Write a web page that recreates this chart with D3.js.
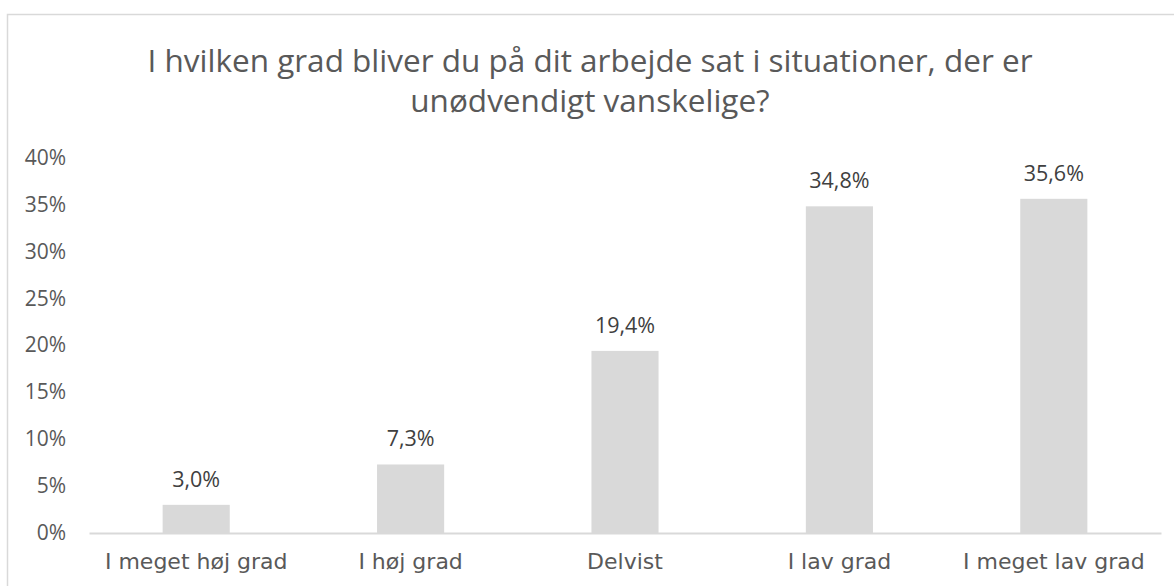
<!DOCTYPE html>
<html>
<head>
<meta charset="utf-8">
<script src="https://cdn.jsdelivr.net/npm/d3@7"></script>
<style>
  body { margin: 0; background: #fff; }
  svg { display: block; }
</style>
</head>
<body>
<div id="chart"></div>
<script>
// chart data
const categories = ["I meget høj grad", "I høj grad", "Delvist", "I lav grad", "I meget lav grad"];
const values = [3.0, 7.3, 19.4, 34.8, 35.6];
const yTicks = [0, 5, 10, 15, 20, 25, 30, 35, 40];
const titleLines = ["I hvilken grad bliver du på dit arbejde sat i situationer, der er", "unødvendigt vanskelige?"];

const width = 1174, height = 586;
const margin = { top: 157.5, right: 13, bottom: 53, left: 89 };

const svg = d3.select("#chart").append("svg")
    .attr("width", width)
    .attr("height", height);

// outer chart frame (right and bottom run off the picture)
svg.append("rect")
    .attr("x", 7.5).attr("y", 14.5)
    .attr("width", 1180).attr("height", 600)
    .attr("fill", "none")
    .attr("stroke", "#d9d9d9")
    .attr("stroke-width", 1.5);

svg.append("text")
    .attr("text-anchor", "middle")
    .attr("font-family", "'Open Sans', sans-serif")
    .attr("font-size", 31.5)
    .attr("fill", "#595959")
    .selectAll("tspan")
    .data(titleLines)
    .enter().append("tspan")
    .attr("x", 590)
    .attr("y", (d, i) => 72 + i * 40)
    .text(d => d);

const x = d3.scaleBand()
    .domain(categories)
    .range([margin.left, width - margin.right])
    .paddingInner(0.687)
    .paddingOuter(0.3435);

const y = d3.scaleLinear()
    .domain([0, 40])
    .range([height - margin.bottom, margin.top]);

svg.selectAll(".bar")
    .data(values)
    .enter().append("rect")
    .attr("class", "bar")
    .attr("x", (d, i) => x(categories[i]))
    .attr("y", d => y(d))
    .attr("width", x.bandwidth())
    .attr("height", d => y(0) - y(d))
    .attr("fill", "#d9d9d9");

svg.selectAll(".label")
    .data(values)
    .enter().append("text")
    .attr("class", "label")
    .attr("x", (d, i) => x(categories[i]) + x.bandwidth() / 2)
    .attr("y", d => y(d) - 18)
    .attr("text-anchor", "middle")
    .attr("font-family", "'Open Sans', sans-serif")
    .attr("font-size", 21.5)
    .attr("fill", "#404040")
    .text(d => d.toFixed(1).replace(".", ",") + "%");

// y axis: labels only
const yAxis = svg.append("g")
    .attr("transform", `translate(${margin.left - 23},0)`)
    .call(d3.axisLeft(y).tickValues(yTicks).tickSize(0).tickPadding(0).tickFormat(d => d + "%"));
yAxis.select(".domain").remove();
yAxis.selectAll("text")
    .attr("font-family", "'Open Sans', sans-serif")
    .attr("font-size", 21)
    .attr("fill", "#595959");

// x axis: baseline + category labels
const xAxis = svg.append("g")
    .attr("transform", `translate(0,${y(0)})`)
    .call(d3.axisBottom(x).tickSize(0).tickPadding(20));
xAxis.select(".domain")
    .attr("stroke", "#d9d9d9")
    .attr("stroke-width", 2);
xAxis.selectAll("text")
    .attr("font-family", "'DejaVu Sans', Verdana, sans-serif")
    .attr("font-size", 22)
    .attr("fill", "#595959");
</script>
</body>
</html>
